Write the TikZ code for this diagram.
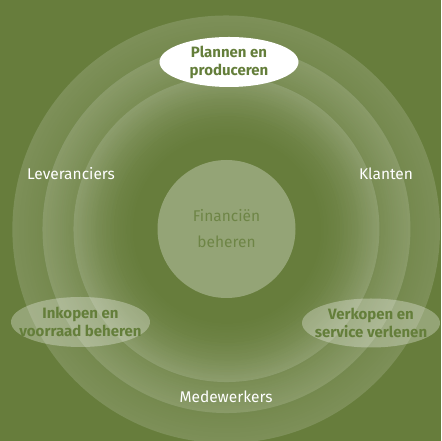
\documentclass[tikz,border=0pt]{standalone}
\usepackage{fontspec}
\setmainfont{Fira Sans}
\usetikzlibrary{positioning, shapes.geometric, fadings}
\definecolor{bgGreen}{RGB}{103,125,60}
\definecolor{taskGreen}{RGB}{100,126,58}
\definecolor{finGreen}{RGB}{110,133,70}
\pgfdeclareradialshading{ringglow}{\pgfpointorigin}{color(0pt)=(transparent!100); color(15pt)=(transparent!100); color(25pt)=(transparent!85); color(50pt)=(transparent!85)}
\pgfdeclarefading{ringfade}{\pgfuseshading{ringglow}}

\begin{document}
\begin{tikzpicture}[x=1pt, y=1pt,
    glow/.style={fill=white, path fading=ringfade},
    party/.style={text=white, font=\fontsize{15.5}{18}\selectfont},
    task/.style={align=center, text=taskGreen, font=\bfseries\fontsize{15}{18}\selectfont},
    pale/.style={fill=white, fill opacity=0.3}]
    \fill[bgGreen] (0,0) rectangle (441,441);
    \useasboundingbox (0,0) rectangle (441,441);
    \coordinate (M) at (226.5,212);
    \coordinate (P) at (229,379);
    \coordinate (I) at (80.5,119);
    \coordinate (V) at (371,118);

    % rings
    \fill[glow] (M) circle (214);
    \fill[glow] (M) circle (184);
    \fill[glow] (M) circle (153);

    \fill[pale] (M) circle (69);
    \node[text=finGreen, align=center, font=\fontsize{15.5}{26}\selectfont] (fin) at (M) {Financiën\\beheren};

    % tasks
    \fill[white] (P) ellipse (69.5 and 25);
    \fill[pale] (I) ellipse (69.5 and 25);
    \fill[pale] (V) ellipse (69 and 24.5);
    \node[task] (plan) at (P) {Plannen en\\produceren};
    \node[task] (inkoop) at (I) {Inkopen en\\voorraad beheren};
    \node[task] (verkoop) at (V) {Verkopen en\\service verlenen};

    \node[party] (lev) at (71,267) {Leveranciers};
    \node[party] (klant) at (386,267) {Klanten};
    \node[party] (mede) at (226,44) {Medewerkers};
\end{tikzpicture}
\end{document}
